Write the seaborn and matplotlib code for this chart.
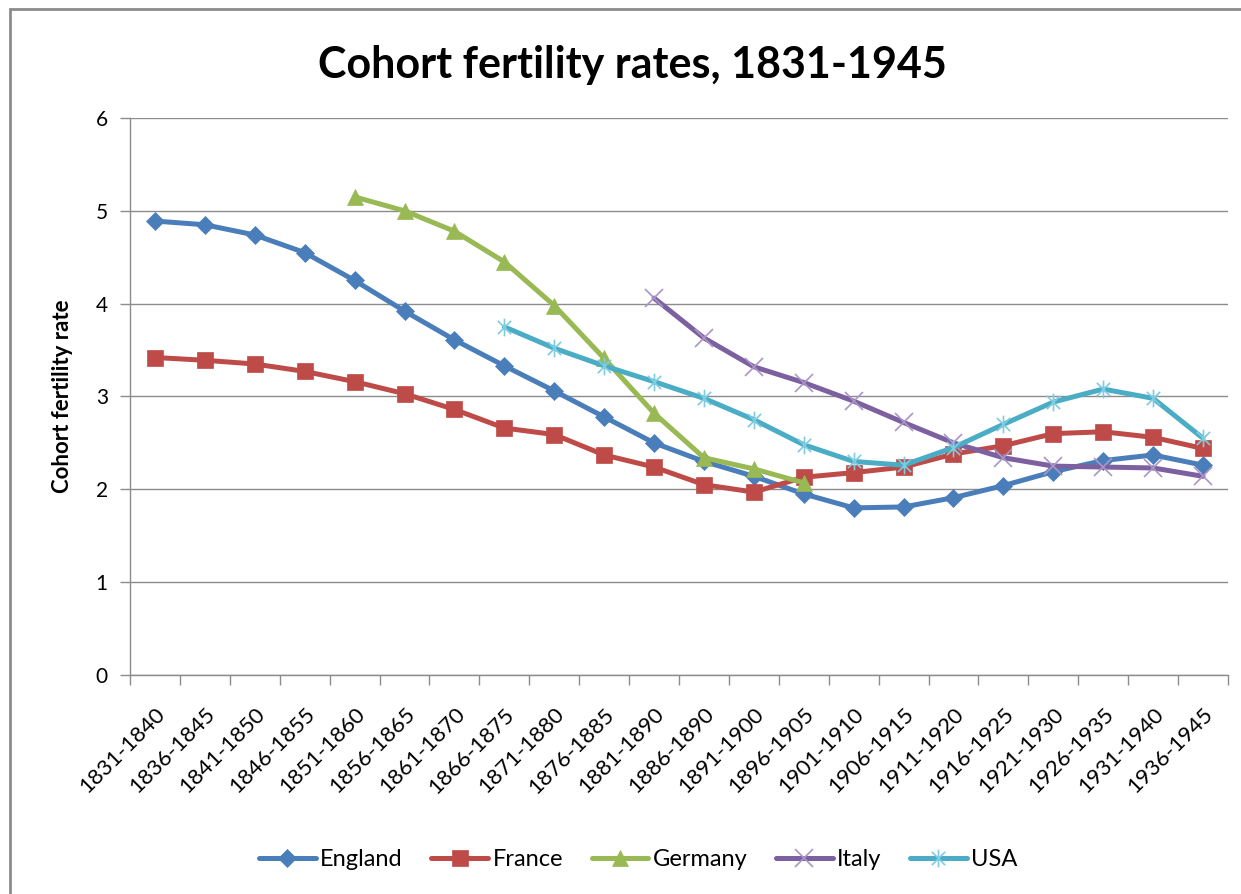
import numpy as np
import pandas as pd
import matplotlib
matplotlib.use('Agg')
import matplotlib.pyplot as plt
from matplotlib.path import Path
from matplotlib.patches import Rectangle
import seaborn as sns

periodos = ['1831-1840', '1836-1845', '1841-1850', '1846-1855', '1851-1860', '1856-1865',
            '1861-1870', '1866-1875', '1871-1880', '1876-1885', '1881-1890', '1886-1890',
            '1891-1900', '1896-1905', '1901-1910', '1906-1915', '1911-1920', '1916-1925',
            '1921-1930', '1926-1935', '1931-1940', '1936-1945']
nan = np.nan
england = [4.89, 4.85, 4.74, 4.55, 4.25, 3.92, 3.61, 3.33, 3.06, 2.78, 2.50, 2.30,
           2.14, 1.95, 1.80, 1.81, 1.91, 2.04, 2.19, 2.31, 2.37, 2.26]
france = [3.42, 3.39, 3.35, 3.27, 3.16, 3.03, 2.86, 2.66, 2.59, 2.37, 2.24, 2.05,
          1.97, 2.13, 2.18, 2.24, 2.38, 2.47, 2.60, 2.62, 2.56, 2.44]
germany = [nan, nan, nan, nan, 5.15, 5.00, 4.78, 4.45, 3.98, 3.41, 2.82, 2.34,
           2.22, 2.07, nan, nan, nan, nan, nan, nan, nan, nan]
italy = [nan, nan, nan, nan, nan, nan, nan, nan, nan, nan, 4.06, 3.63,
         3.32, 3.15, 2.95, 2.72, 2.50, 2.34, 2.25, 2.24, 2.23, 2.14]
usa = [nan, nan, nan, nan, nan, nan, nan, 3.75, 3.52, 3.33, 3.16, 2.98,
       2.75, 2.48, 2.30, 2.26, 2.45, 2.70, 2.94, 3.08, 2.98, 2.55]
paises = ['England', 'France', 'Germany', 'Italy', 'USA']

########### Armado del dataset ###########
df = pd.DataFrame({'England': england, 'France': france, 'Germany': germany,
                   'Italy': italy, 'USA': usa})
df['pos'] = range(len(periodos))
dd = pd.melt(df, id_vars=['pos'], value_vars=paises, var_name='Pais').dropna()

colores = {'England': '#4A7EBB', 'France': '#BE4B48', 'Germany': '#98B954',
           'Italy': '#7D60A0', 'USA': '#4BACC6'}
bordes = {'England': '#4A7EBB', 'France': '#BE4B48', 'Germany': '#98B954',
          'Italy': '#A995C8', 'USA': '#7FCBE0'}
# marcador tipo asterisco de Excel (x con linea vertical)
estrella = Path([(0, -1), (0, 1), (-0.75, -0.75), (0.75, 0.75), (-0.75, 0.75), (0.75, -0.75)],
                [Path.MOVETO, Path.LINETO, Path.MOVETO, Path.LINETO, Path.MOVETO, Path.LINETO])
marcas = {'England': 'D', 'France': 's', 'Germany': '^', 'Italy': 'x', 'USA': estrella}
tamanos = {'England': 11, 'France': 14, 'Germany': 13, 'Italy': 15, 'USA': 15}

############ Grafica ############
sns.set_theme(style='white')
plt.rcParams['font.family'] = ['Lato', 'DejaVu Sans']
plt.rcParams['text.color'] = 'black'
fig = plt.figure(figsize=(12.41, 8.94), dpi=100)
ax = fig.add_axes([0.1048, 0.245, 0.8847, 0.623])
ax.set_axisbelow(True)
ax.yaxis.grid(True, color='#8C8C8C', linewidth=1.0)

for p in paises:
    sub = dd[dd.Pais == p]
    sns.lineplot(data=sub, x='pos', y='value', color=colores[p], marker=marcas[p],
                 markersize=tamanos[p], markeredgecolor=bordes[p],
                 markeredgewidth=1.2 if p in ('Italy', 'USA') else 0.5,
                 linewidth=3.6, ax=ax, label=p, estimator=None)

ax.set_xlim(-0.5, len(periodos) - 0.5)
ax.set_ylim(0, 6)
ax.set_yticks(range(0, 7))
ax.set_xticks(range(len(periodos)))
ax.set_xticklabels(periodos, rotation=45, ha='right', rotation_mode='anchor', fontsize=16)
ax.set_xticks(np.arange(-0.5, len(periodos), 1), minor=True)
ax.tick_params(axis='x', which='major', length=0, pad=21, labelcolor='black')
ax.tick_params(axis='x', which='minor', length=7, color='#8C8C8C', width=1, direction='out', bottom=True)
ax.tick_params(axis='y', length=7, color='#8C8C8C', width=1, direction='out', left=True,
               labelsize=15, pad=9, labelcolor='black')
for s in ['top', 'right']:
    ax.spines[s].set_visible(False)
for s in ['left', 'bottom']:
    ax.spines[s].set_color('#8C8C8C')
    ax.spines[s].set_linewidth(1.0)

ax.set_xlabel('')
ax.set_ylabel('Cohort fertility rate', fontsize=16, fontweight='bold', labelpad=16, color='black')
fig.suptitle('Cohort fertility rates, 1831-1945', fontsize=31, fontweight='bold', x=0.51, y=0.95,
             color='black')

h, l = ax.get_legend_handles_labels()
for hh, p in zip(h, l):
    hh.set_markersize(tamanos[p] * 0.85)
ax.legend(h, l, loc='center', bbox_to_anchor=(0.463, -0.331), ncol=5, frameon=False,
          fontsize=17, handlelength=2.4, handletextpad=0.2, columnspacing=1.2)

fig.patches.append(Rectangle((0.008, -0.01), 1.1, 1.0, transform=fig.transFigure,
                             fill=False, edgecolor='#8C8C8C', linewidth=2))
plt.savefig('out.png', dpi=100)
